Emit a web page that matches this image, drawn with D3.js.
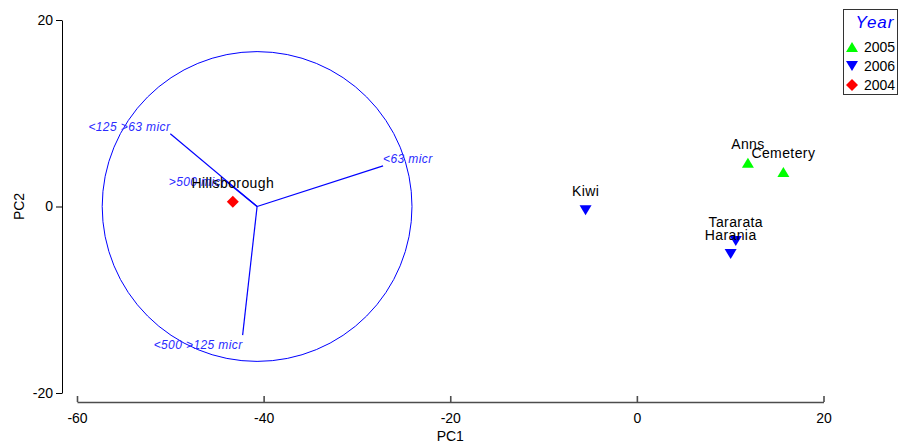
<!DOCTYPE html>
<html>
<head>
<meta charset="utf-8">
<script src="https://cdn.jsdelivr.net/npm/d3@7"></script>
<style>
  html, body { margin: 0; padding: 0; background: #fff; }
  svg { display: block; font-family: "Liberation Sans", Arial, Helvetica, sans-serif; }
</style>
</head>
<body>
<svg id="chart" width="900" height="444"></svg>
<script>
// Axis domains and ticks
const pc1Domain = [-60, 20];
const pc2Domain = [-20, 20];
const pc1Ticks = [-60, -40, -20, 0, 20];
const pc2Ticks = [-20, 0, 20];

// Site scores
const siteNames = ["Hillsborough", "Kiwi", "Anns", "Cemetery", "Tararata", "Harania"];
const sitePC1 = [-43.3, -5.5, 11.9, 15.7, 10.6, 10.05];
const sitePC2 = [0.5, -0.4, 4.7, 3.7, -3.7, -5.1];
const siteYear = ["2004", "2006", "2005", "2005", "2006", "2006"];

// Legend groups
const years = ["2005", "2006", "2004"];
const yearColors = ["#00ff00", "#0000ff", "#ff0000"];
const yearShapes = ["up", "down", "diamond"];

// Variable vectors (relative to the biplot origin) and correlation circle
const vectorNames = ["<63 micr", "<125 >63 micr", ">500 micr", "<500 >125 micr"];
const vectorPC1 = [13.5, -9.3, -3.4, -1.55];
const vectorPC2 = [4.35, 7.8, 2.75, -13.8];
const biplotOrigin = [-40.7, 0];
const circleRadius = 16.6;

// Label tweaks (pixels) for the vector captions
const vectorLabelDy = { "<63 micr": -3, "<125 >63 micr": -3, ">500 micr": 5, "<500 >125 micr": 14 };

const svg = d3.select("#chart");

const x = d3.scaleLinear().domain(pc1Domain).range([77, 823.5]);
const y = d3.scaleLinear().domain(pc2Domain).range([393, 20]);

// Y axis
const yAxis = svg.append("g")
  .attr("transform", "translate(62,0)")
  .call(d3.axisLeft(y).tickValues(pc2Ticks).tickFormat(d => String(d))
    .tickSize(6).tickSizeOuter(0).tickPadding(3));
yAxis.selectAll("path, line").attr("stroke", "#000");
yAxis.selectAll("text").attr("fill", "#000").style("font-size", "14px")
  .style("font-family", "Liberation Sans, Arial, sans-serif");

// X axis
const xAxis = svg.append("g")
  .attr("transform", "translate(0,402)")
  .call(d3.axisBottom(x).tickValues(pc1Ticks).tickFormat(d => String(d))
    .tickSizeInner(-6).tickSizeOuter(0).tickPadding(11));
xAxis.selectAll("path, line").attr("stroke", "#4d4d4d").attr("stroke-width", 1.6);
xAxis.selectAll("text").attr("fill", "#000").style("font-size", "14px")
  .style("font-family", "Liberation Sans, Arial, sans-serif");

// Axis titles
svg.append("text").attr("x", (x.range()[0] + x.range()[1]) / 2).attr("y", 441)
  .attr("text-anchor", "middle").style("font-size", "14px").text("PC1");
svg.append("text")
  .attr("transform", `translate(24,${y(0)}) rotate(-90)`)
  .attr("text-anchor", "middle").style("font-size", "14px").text("PC2");

// Biplot: circle and variable vectors
const ox = x(biplotOrigin[0]), oy = y(biplotOrigin[1]);
const pxPerUnit = x(1) - x(0);
const biplot = svg.append("g");
biplot.append("circle")
  .attr("cx", ox).attr("cy", oy).attr("r", circleRadius * pxPerUnit)
  .attr("fill", "none").attr("stroke", "#0000ff").attr("stroke-width", 1);

vectorNames.forEach((name, i) => {
  const tx = x(biplotOrigin[0] + vectorPC1[i]);
  const ty = y(biplotOrigin[1] + vectorPC2[i]);
  biplot.append("line")
    .attr("x1", ox).attr("y1", oy).attr("x2", tx).attr("y2", ty)
    .attr("stroke", "#0000ff").attr("stroke-width", 1.2);
  biplot.append("text")
    .attr("x", tx).attr("y", ty + vectorLabelDy[name])
    .attr("text-anchor", vectorPC1[i] < 0 ? "end" : "start")
    .attr("fill", "#2a2aff").style("font-size", "12px").style("font-style", "italic")
    .style("letter-spacing", "0.4px")
    .text(name);
});

// Marker shapes
function markerPath(shape) {
  if (shape === "up") return "M0,-5L6,5L-6,5Z";
  if (shape === "down") return "M0,5L6,-5L-6,-5Z";
  return "M0,-6L6,0L0,6L-6,0Z";
}
const colorOf = d3.scaleOrdinal().domain(years).range(yearColors);
const shapeOf = d3.scaleOrdinal().domain(years).range(yearShapes);

// Site points and labels
const sites = siteNames.map((name, i) => ({ name, pc1: sitePC1[i], pc2: sitePC2[i], year: siteYear[i] }));
const pts = svg.append("g");
pts.selectAll("path").data(sites).join("path")
  .attr("transform", d => `translate(${x(d.pc1)},${y(d.pc2)})`)
  .attr("d", d => markerPath(shapeOf(d.year)))
  .attr("fill", d => colorOf(d.year));
pts.selectAll("text").data(sites).join("text")
  .attr("x", d => x(d.pc1)).attr("y", d => y(d.pc2) - 14)
  .attr("text-anchor", "middle").attr("fill", "#000")
  .style("font-size", "14px").style("letter-spacing", "0.4px")
  .text(d => d.name);

// Legend
const lg = svg.append("g");
lg.append("rect").attr("x", 843.5).attr("y", 9.5).attr("width", 54).attr("height", 85)
  .attr("fill", "#fff").attr("stroke", "#333").attr("stroke-width", 1);
lg.append("text").attr("x", 875).attr("y", 28).attr("text-anchor", "middle")
  .attr("fill", "#0000ff").style("font-size", "17px").style("font-style", "italic")
  .style("letter-spacing", "1px").text("Year");
years.forEach((yr, i) => {
  const cy = 47 + i * 19;
  lg.append("path").attr("transform", `translate(852,${cy})`)
    .attr("d", markerPath(yearShapes[i])).attr("fill", yearColors[i]);
  lg.append("text").attr("x", 864).attr("y", cy + 5).attr("fill", "#000")
    .style("font-size", "14px").text(yr);
});
</script>
</body>
</html>
